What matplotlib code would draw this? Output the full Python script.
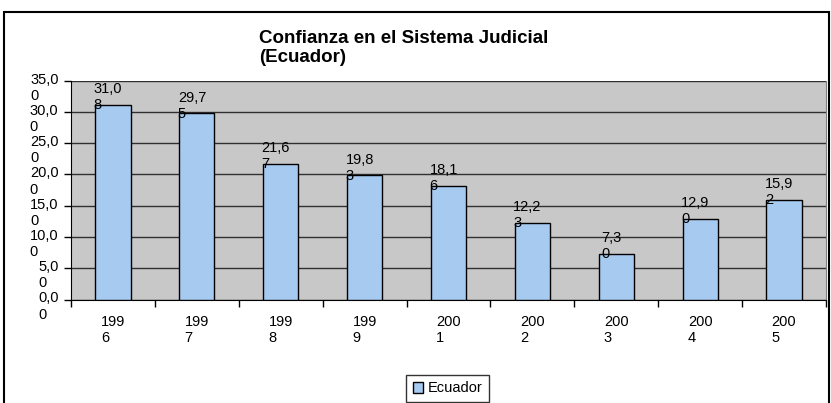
import matplotlib.pyplot as plt
import matplotlib.transforms as mtransforms
from matplotlib.patches import Rectangle
import numpy as np

plt.rcParams['font.family'] = ['Liberation Sans', 'DejaVu Sans']

# data
years = ["1996", "1997", "1998", "1999", "2001", "2002", "2003", "2004", "2005"]
confianza = [31.08, 29.75, 21.67, 19.83, 18.16, 12.23, 7.30, 12.90, 15.92]
yticks = [0, 5, 10, 15, 20, 25, 30, 35]

BAR_COLOR = "#A6CAF0"
BG_COLOR = "#C8C8C8"


def excel_wrap(s, n):
    # the original wraps labels after n characters
    return s[:n] + "\n" + s[n:]


def fmt(v):
    return f"{v:.2f}".replace(".", ",")


fig = plt.figure(figsize=(8.31, 4.03), dpi=100)
fig.patches.append(Rectangle((4 / 831, -0.1), 825 / 831, 1.1 - 12 / 403,
                             transform=fig.transFigure, fill=False,
                             edgecolor="black", lw=1.5))

ax = fig.add_axes([71 / 831, 1 - 299.5 / 403, 755 / 831, 219 / 403])
ax.set_facecolor(BG_COLOR)

x = np.arange(len(years))
bars = ax.bar(x, confianza, width=0.42, color=BAR_COLOR, edgecolor="black",
              lw=1.0, label="Ecuador", zorder=3)

for xi, v in zip(x, confianza):
    s = fmt(v)
    ax.annotate(excel_wrap(s, len(s) - 1), (xi, v), xytext=(-3.5, 5.5),
                textcoords="offset points", ha="center", va="center",
                multialignment="left", fontsize=10.5, zorder=4)

ax.set_xlim(-0.5, len(years) - 0.5)
ax.set_ylim(0, 35)
ax.set_yticks(yticks)
ax.set_yticklabels([excel_wrap(fmt(t), len(fmt(t)) - 1) for t in yticks],
                   fontsize=10.5)
ax.yaxis.grid(True, color="#303030", lw=1.0, zorder=0)
ax.tick_params(axis="y", length=5, width=1, pad=4)
offset = mtransforms.ScaledTranslation(0, 8 / 100, fig.dpi_scale_trans)
for lab in ax.get_yticklabels():
    lab.set_verticalalignment("top")
    lab.set_multialignment("left")
    lab.set_transform(lab.get_transform() + offset)

ax.set_xticks(x)
ax.set_xticklabels([excel_wrap(y, 3) for y in years], fontsize=10.5,
                   multialignment="left")
ax.set_xticks(np.arange(-0.5, len(years)), minor=True)
ax.tick_params(axis="x", which="major", length=0, pad=11)
ax.tick_params(axis="x", which="minor", length=5, width=1)

ax.spines["top"].set_visible(False)
ax.spines["right"].set_color("#808080")
ax.spines["left"].set_color("black")
ax.spines["bottom"].set_color("black")

fig.text(259 / 831, 1 - 48 / 403, "Confianza en el Sistema Judicial\n(Ecuador)",
         fontsize=13.5, fontweight="bold", ha="left", va="center",
         linespacing=1.1)

fig.legend(handles=[bars], labels=["Ecuador"], loc="center",
           bbox_to_anchor=(447.5 / 831, 1 - 388.5 / 403), frameon=True,
           fancybox=False, edgecolor="black", fontsize=10.5,
           handlelength=0.7, handleheight=0.7, handletextpad=0.3,
           borderpad=0.45, borderaxespad=0)

fig.savefig("out.png", dpi=100)
